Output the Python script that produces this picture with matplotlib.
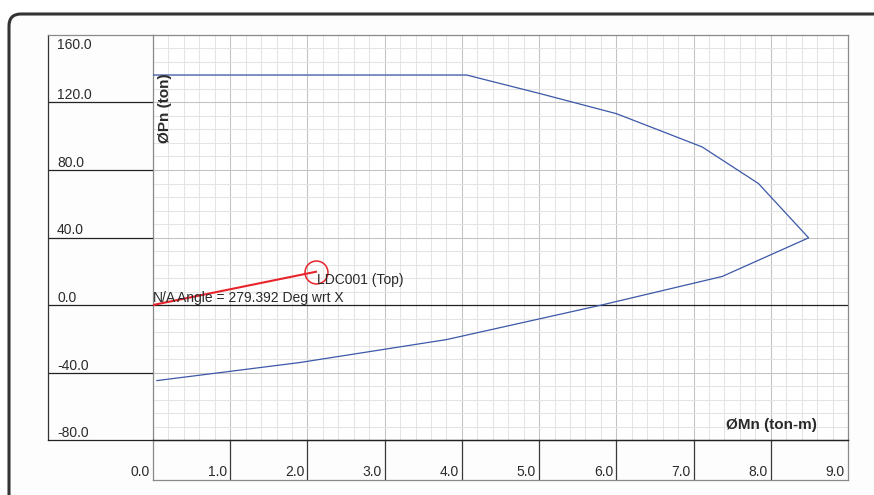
import matplotlib
matplotlib.use("Agg")
import matplotlib.pyplot as plt
from matplotlib.patches import FancyBboxPatch
from matplotlib.ticker import MultipleLocator
from matplotlib.transforms import IdentityTransform
import numpy as np

plt.rcParams['font.family'] = ['Liberation Sans', 'DejaVu Sans']

W, H, DPI = 874, 495, 100

# Interaction diagram (ØMn in ton-m, ØPn in ton)
mn = [0.0, 4.06, 5.01, 6.00, 7.11, 7.84, 8.49, 7.37, 5.81, 3.80, 1.90, 0.05]
pn = [136.3, 136.3, 125.3, 113.4, 93.7, 72.0, 39.8, 16.9, 0.0, -20.5, -34.1, -44.8]

# Demand point
demand_mn = 2.11
demand_pn = 19.7
demand_label = "LDC001 (Top)"
na_text = "N/A"
angle_text = "Angle = 279.392 Deg wrt X"

x_ticks = list(range(0, 10))
y_ticks = [-80, -40, 0, 40, 80, 120, 160]
x_title = "ØMn (ton-m)"
y_title = "ØPn (ton)"

TEXT = '#2a2a2a'
CURVE = '#3c58a8'
RED = '#e8232b'


def box(x0, y0, x1, y1):
    """Pixel rectangle (top-left origin) -> figure-fraction [l, b, w, h]."""
    return [x0 / W, 1 - y1 / H, (x1 - x0) / W, (y1 - y0) / H]


fig = plt.figure(figsize=(W / DPI, H / DPI), dpi=DPI)
fig.patch.set_facecolor('white')

# Outer rounded panel border
frame = FancyBboxPatch((9, -30), 1000, (H - 14) + 30,
                       boxstyle="round,pad=0,rounding_size=12",
                       transform=IdentityTransform(), facecolor='#fdfdfd',
                       edgecolor='#333333', linewidth=2.2, zorder=-10)
fig.patches.append(frame)

# Main plotting area
ax = fig.add_axes(box(153, 35, 848, 440))
ax.set_xlim(x_ticks[0], x_ticks[-1])
ax.set_ylim(y_ticks[0], y_ticks[-1])
ax.set_facecolor('white')
ax.xaxis.set_major_locator(MultipleLocator(1))
ax.xaxis.set_minor_locator(MultipleLocator(0.2))
ax.yaxis.set_major_locator(MultipleLocator(40))
ax.yaxis.set_minor_locator(MultipleLocator(8))
ax.grid(which='minor', color='#e4e4e4', linewidth=0.75)
ax.grid(which='major', color='#c2c2c2', linewidth=0.75)
ax.set_axisbelow(True)
ax.tick_params(which='both', length=0, labelleft=False, labelbottom=False)
for side in ('top', 'right', 'left'):
    ax.spines[side].set_color('#8a8a8a')
    ax.spines[side].set_linewidth(0.9)
ax.spines['bottom'].set_color('#222222')
ax.spines['bottom'].set_linewidth(0.9)
ax.axhline(0, color='#222222', linewidth=0.9, zorder=2)

ax.plot(mn, pn, color=CURVE, linewidth=0.9, zorder=3)
ax.plot([0, demand_mn], [0, demand_pn], color=RED, linewidth=1.5, zorder=4)
ax.plot(demand_mn, demand_pn, marker='o', markersize=16.5, markerfacecolor='none',
        markeredgecolor=RED, markeredgewidth=1.1, zorder=4)

ax.annotate(demand_label, (demand_mn, demand_pn), xytext=(1, -8),
            textcoords='offset pixels', ha='left', va='center',
            fontsize=10, color=TEXT, zorder=5)
ax.annotate(na_text, (0, 0), xytext=(0, 3), textcoords='offset pixels',
            ha='left', va='baseline', fontsize=10, color=TEXT, zorder=5)
ax.annotate(angle_text, (0, 0), xytext=(24, 3), textcoords='offset pixels',
            ha='left', va='baseline', fontsize=10, color=TEXT, zorder=5)

# Y value column
ax_y = fig.add_axes(box(48, 35, 153, 440))
ax_y.set_xlim(0, 1)
ax_y.set_ylim(y_ticks[0], y_ticks[-1])
ax_y.set_xticks([]); ax_y.set_yticks([])
ax_y.set_facecolor('none')
ax_y.spines['right'].set_visible(False)
ax_y.spines['left'].set_color('#333333')
ax_y.spines['bottom'].set_color('#222222')
ax_y.spines['top'].set_color('#8a8a8a')
for s in ax_y.spines.values():
    s.set_linewidth(0.9)
for v in y_ticks:
    if v not in (y_ticks[0], y_ticks[-1]):
        ax_y.axhline(v, color='#222222', linewidth=0.9)
    if v == y_ticks[-1]:
        ax_y.annotate(f"{v:.1f}", (0, v), xycoords=('axes fraction', 'data'),
                      xytext=(9, -3), textcoords='offset pixels',
                      ha='left', va='top', fontsize=10, color=TEXT)
    else:
        ax_y.annotate(f"{v:.1f}", (0, v), xycoords=('axes fraction', 'data'),
                      xytext=(9, 3), textcoords='offset pixels',
                      ha='left', va='baseline', fontsize=10, color=TEXT)

# X value row
ax_x = fig.add_axes(box(153, 440, 848, 480))
ax_x.set_xlim(x_ticks[0], x_ticks[-1])
ax_x.set_ylim(0, 1)
ax_x.set_xticks([]); ax_x.set_yticks([])
ax_x.set_facecolor('none')
for side in ('left', 'right', 'bottom'):
    ax_x.spines[side].set_color('#8a8a8a')
    ax_x.spines[side].set_linewidth(0.9)
ax_x.spines['top'].set_color('#222222')
ax_x.spines['top'].set_linewidth(0.9)
for v in x_ticks:
    if v not in (x_ticks[0], x_ticks[-1]):
        ax_x.axvline(v, color='#3a3a3a', linewidth=0.9)
    ax_x.annotate(f"{v:.1f}", (v, 0), xycoords=('data', 'axes fraction'),
                  xytext=(-3, 4), textcoords='offset pixels',
                  ha='right', va='baseline', fontsize=10, color=TEXT,
                  annotation_clip=False)

# Axis titles drawn inside the grid
fig.text(165.5 / W, 1 - 108.5 / H, y_title, rotation=90, ha='center', va='center',
         fontsize=11, fontweight='bold', color=TEXT)
fig.text(771.7 / W, 1 - 425 / H, x_title, ha='center', va='center',
         fontsize=11, fontweight='bold', color=TEXT)

fig.savefig('out.png', dpi=DPI)
